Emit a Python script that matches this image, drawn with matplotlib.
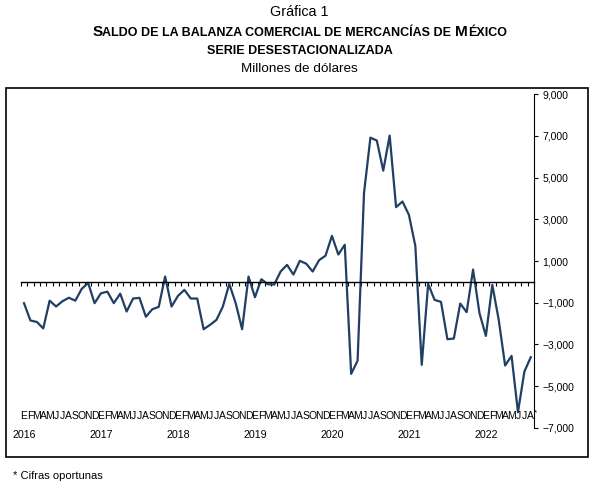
import numpy as np
import matplotlib.pyplot as plt
from matplotlib.offsetbox import TextArea, HPacker, AnchoredOffsetbox
from matplotlib.patches import Rectangle
from matplotlib.ticker import StrMethodFormatter

plt.rcParams['font.family'] = ['Liberation Sans', 'DejaVu Sans']

# saldo mensual, millones de dolares (ene 2016 - ago 2022)
saldo_2016 = [-1020, -1850, -1920, -2230, -900, -1180, -925, -760, -900, -335, -50, -1020]
saldo_2017 = [-545, -470, -1020, -565, -1420, -798, -766, -1670, -1310, -1198, 256, -1182]
saldo_2018 = [-671, -383, -798, -798, -2268, -2060, -1820, -1180, -96, -1022, -2268, 256]
saldo_2019 = [-735, 128, -112, -128, 495, 815, 351, 1010, 870, 495, 1040, 1255]
saldo_2020 = [2204, 1310, 1780, -4407, -3775, 4250, 6910, 6770, 5330, 7010, 3580, 3850]
saldo_2021 = [3210, 1725, -3976, -96, -862, -958, -2747, -2715, -1038, -1450, 590, -1500]
saldo_2022 = [-2587, -144, -1820, -4008, -3545, -6243, -4296, -3608]
saldo = (saldo_2016 + saldo_2017 + saldo_2018 + saldo_2019
         + saldo_2020 + saldo_2021 + saldo_2022)

meses = ['E', 'F', 'M', 'A', 'M', 'J', 'J', 'A', 'S', 'O', 'N', 'D']
anios = [2016, 2017, 2018, 2019, 2020, 2021, 2022]
yticks = list(range(-7000, 9001, 2000))

fig = plt.figure(figsize=(5.99, 4.92), dpi=100)
ax = fig.add_axes([0.0347, 0.1301, 0.8568, 0.6788])

x = np.arange(len(saldo))
ax.plot(x, saldo, color='#213f63', lw=1.6)

ax.set_xlim(-0.5, 79.5)
ax.set_ylim(-7000, 9000)

ax.spines['top'].set_visible(False)
ax.spines['left'].set_visible(False)
ax.spines['right'].set_linewidth(0.8)
ax.spines['bottom'].set_position(('data', 0))
ax.spines['bottom'].set_linewidth(1.0)

ax.yaxis.tick_right()
ax.set_yticks(yticks)
ax.yaxis.set_major_formatter(StrMethodFormatter('{x:,.0f}'))
ax.tick_params(axis='y', direction='out', length=3, width=0.8, labelsize=7.5, pad=3)

ax.set_xticks(np.arange(-0.5, len(saldo), 1))
ax.set_xticklabels([])
ax.tick_params(axis='x', direction='out', length=3, width=0.8)

trans = ax.get_xaxis_transform()
for i in x:
    ax.text(i, 0.036, meses[i % 12], transform=trans, ha='center', va='center', fontsize=7.5)
ax.text(x[-1] + 0.5, 0.045, '*', transform=trans, ha='left', va='center', fontsize=6)
for k, a in enumerate(anios):
    ax.text(12 * k, -0.021, str(a), transform=trans, ha='center', va='center', fontsize=7.7)

# titulos
fig.text(0.5, 1 - 12 / 492, 'Gráfica 1', ha='center', va='center', fontsize=10.3)
big = dict(fontsize=11.1, fontweight='bold')
small = dict(fontsize=9.0, fontweight='bold')
partes = [TextArea('S', textprops=big),
          TextArea('ALDO DE LA BALANZA COMERCIAL DE MERCANCÍAS DE ', textprops=small),
          TextArea('M', textprops=big),
          TextArea('ÉXICO', textprops=small)]
caja = HPacker(children=partes, align='baseline', pad=0, sep=0)
ab = AnchoredOffsetbox(loc='center', child=caja, pad=0, borderpad=0, frameon=False,
                       bbox_to_anchor=(0.5, 1 - 32 / 492), bbox_transform=fig.transFigure)
fig.add_artist(ab)
fig.text(0.5, 1 - 51 / 492, 'SERIE DESESTACIONALIZADA', ha='center', va='center',
         fontsize=9.0, fontweight='bold')
fig.text(0.5, 1 - 69 / 492, 'Millones de dólares', ha='center', va='center', fontsize=9.7)

fig.add_artist(Rectangle((6 / 599, 1 - 457 / 492), 582 / 599, 369 / 492,
                         transform=fig.transFigure, fill=False, lw=1.2, ec='black'))

fig.text(13 / 599, 1 - 476 / 492, '* Cifras oportunas', va='center', fontsize=8)

fig.savefig('out.png', dpi=100)
